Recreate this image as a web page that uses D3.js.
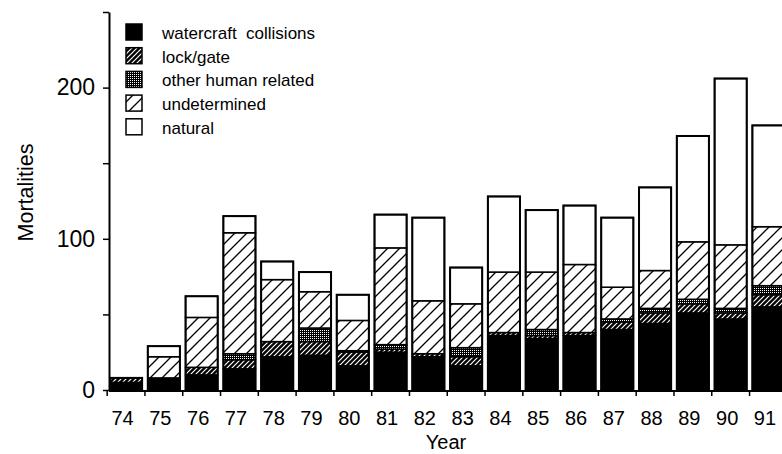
<!DOCTYPE html>
<html><head><meta charset="utf-8">
<script src="https://cdn.jsdelivr.net/npm/d3@7"></script>
<style>
body{margin:0;background:#fff}
svg{display:block}
text{font-family:"Liberation Sans",Arial,Helvetica,sans-serif;fill:#000}
</style>
</head><body>
<svg id="c" width="782" height="454"></svg>
<script>
const years = ["74","75","76","77","78","79","80","81","82","83","84","85","86","87","88","89","90","91"];
const watercraft   = [5, 8, 10, 14, 22, 23, 16, 25, 22, 16, 36, 34, 36, 40, 44, 51, 47, 55];
const lockGate     = [3, 0, 5, 6, 10, 9, 9, 2, 2, 6, 2, 2, 2, 5, 7, 6, 4, 8];
const otherHuman   = [0, 0, 0, 4, 0, 9, 1, 3, 0, 6, 0, 4, 0, 2, 3, 3, 3, 6];
const undetermined = [0, 14, 33, 80, 41, 24, 20, 64, 35, 29, 40, 38, 45, 21, 25, 38, 42, 39];
const natural      = [0, 7, 14, 11, 12, 13, 17, 22, 55, 24, 50, 41, 39, 46, 55, 70, 110, 67];
const seriesKeys   = ["watercraft", "lockGate", "otherHuman", "undetermined", "natural"];
const seriesNames  = ["watercraft  collisions", "lock/gate", "other human related", "undetermined", "natural"];
const yTicks       = [0, 50, 100, 150, 200, 250];
const yTickLabels  = [0, 100, 200];

const rows = years.map((yr, i) => ({
  year: yr,
  watercraft: watercraft[i],
  lockGate: lockGate[i],
  otherHuman: otherHuman[i],
  undetermined: undetermined[i],
  natural: natural[i]
}));

const svg = d3.select("#c");
const defs = svg.append("defs");

// patterns
const pLock = defs.append("pattern").attr("id","pLock").attr("patternUnits","userSpaceOnUse")
  .attr("width",5).attr("height",5);
pLock.append("rect").attr("width",5).attr("height",5).attr("fill","#000");
pLock.append("path").attr("d","M0,5 L5,0 M-1,1 L1,-1 M4,6 L6,4").attr("stroke","#fff").attr("stroke-width",1.2);

const pOther = defs.append("pattern").attr("id","pOther").attr("patternUnits","userSpaceOnUse")
  .attr("width",2).attr("height",2);
pOther.append("rect").attr("width",2).attr("height",2).attr("fill","#000");
pOther.append("rect").attr("width",1).attr("height",1).attr("fill","#fff");

const pUnd = defs.append("pattern").attr("id","pUnd").attr("patternUnits","userSpaceOnUse")
  .attr("width",12).attr("height",12);
pUnd.append("rect").attr("width",12).attr("height",12).attr("fill","#fff");
pUnd.append("path").attr("d","M0,12 L12,0 M-2,2 L2,-2 M10,14 L14,10").attr("stroke","#000").attr("stroke-width",1.3);

const fills = {
  watercraft: "#000",
  lockGate: "url(#pLock)",
  otherHuman: "url(#pOther)",
  undetermined: "url(#pUnd)",
  natural: "#fff"
};

const x = d3.scaleBand().domain(years).range([110, 784.5]).paddingInner(0.15).paddingOuter(0);
const y = d3.scaleLinear().domain([0, 250]).range([390, 12]);

const stack = d3.stack().keys(seriesKeys);
const stacked = stack(rows);

const gBars = svg.append("g");
stacked.forEach(layer => {
  gBars.append("g").selectAll("rect")
    .data(layer.filter(d => d[1] - d[0] > 0))
    .join("rect")
    .attr("x", d => x(d.data.year))
    .attr("width", x.bandwidth())
    .attr("y", d => y(d[1]))
    .attr("height", d => y(d[0]) - y(d[1]))
    .attr("fill", fills[layer.key])
    .attr("stroke", "#000")
    .attr("stroke-width", 1.5);
});

// outer outline for each bar
gBars.append("g").selectAll("rect")
  .data(rows)
  .join("rect")
  .attr("x", d => x(d.year))
  .attr("width", x.bandwidth())
  .attr("y", d => y(seriesKeys.reduce((s, k) => s + d[k], 0)))
  .attr("height", d => y(0) - y(seriesKeys.reduce((s, k) => s + d[k], 0)))
  .attr("fill", "none")
  .attr("stroke", "#000")
  .attr("stroke-width", 2);

// y axis
const yAxis = svg.append("g").attr("transform","translate(109,0)")
  .call(d3.axisLeft(y).tickValues(yTicks)
    .tickFormat(d => yTickLabels.includes(d) ? d : "")
    .tickSize(6).tickSizeOuter(0).tickPadding(8));
yAxis.select(".domain").attr("stroke-width", 2);
yAxis.selectAll(".tick line").attr("stroke-width", 1.5);
yAxis.selectAll("text").attr("font-size", 23).attr("font-family", "Liberation Sans, Arial, sans-serif");

// x axis
const xAxis = svg.append("g").attr("transform","translate(0,391)")
  .call(d3.axisBottom(x).tickSize(0).tickPadding(20));
xAxis.select(".domain").attr("d", "M109,0H782").attr("stroke-width", 2);
xAxis.selectAll("text").attr("font-size", 20).attr("dx", -3.5).attr("font-family", "Liberation Sans, Arial, sans-serif");

const gap = x.step() - x.bandwidth();
const boundaries = years.map(yr => x(yr) - gap / 2).concat([x(years[years.length - 1]) + x.bandwidth() + gap / 2]);
svg.append("g").selectAll("line")
  .data(boundaries.filter(b => b < 782))
  .join("line")
  .attr("x1", d => d).attr("x2", d => d)
  .attr("y1", 390).attr("y2", 396)
  .attr("stroke", "#000").attr("stroke-width", 1.5);

// axis titles
svg.append("text").attr("x", 446).attr("y", 449).attr("text-anchor","middle")
  .attr("font-size", 20).text("Year");
svg.append("text").attr("transform","translate(33,192.5) rotate(-90)").attr("text-anchor","middle")
  .attr("font-size", 21.5).text("Mortalities");

// legend
const legend = svg.append("g");
seriesKeys.forEach((k, i) => {
  const top = 24 + i * 23.7;
  legend.append("rect").attr("x", 126).attr("y", top).attr("width", 16).attr("height", 16)
    .attr("fill", fills[k]).attr("stroke", "#000").attr("stroke-width", 1.5);
  legend.append("text").attr("x", 162).attr("y", top + 15).attr("font-size", 17)
    .style("white-space","pre").text(seriesNames[i]);
});
</script>
</body></html>
